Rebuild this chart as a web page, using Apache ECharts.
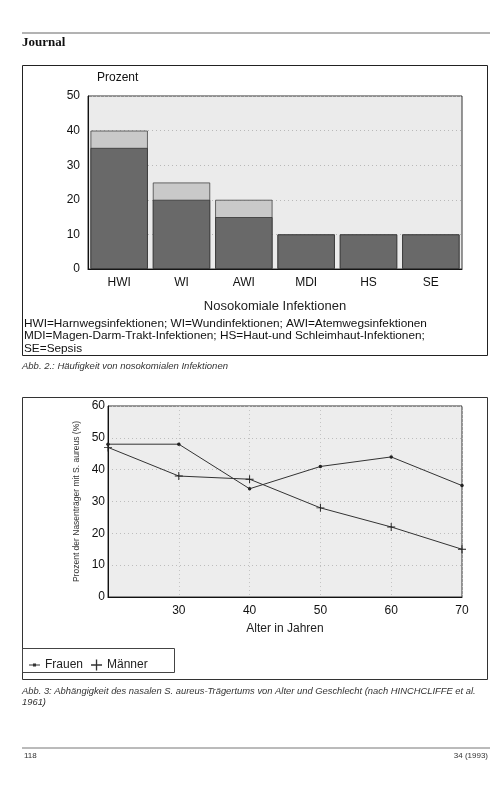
<!DOCTYPE html>
<html><head><meta charset="utf-8">
<script src="https://cdn.jsdelivr.net/npm/echarts@6/dist/echarts.min.js"></script>
<style>html,body{margin:0;padding:0;background:#fff}#c{width:493px;height:792px}</style>
</head><body><div id="c"></div>
<script>
// Chart 1: Häufigkeit von nosokomialen Infektionen
const categories = ['HWI', 'WI', 'AWI', 'MDI', 'HS', 'SE'];
const gesamtWerte = [40, 25, 20, 10, 10, 10];
const dunklerAnteil = [35, 20, 15, 10, 10, 10];
const barYTicks = [0, 10, 20, 30, 40, 50];

// Chart 2: S. aureus-Trägertum nach Alter und Geschlecht
const alter = [20, 30, 40, 50, 60, 70];
const frauen = [48, 48, 34, 41, 44, 35];
const maenner = [47, 38, 37, 28, 22, 15];
const lineXTicks = [30, 40, 50, 60, 70];
const lineYTicks = [0, 10, 20, 30, 40, 50, 60];

const FONT = '"Liberation Sans", Arial, sans-serif';
const PLUS = 'path://M4.4,0h1.2v4.4h4.4v1.2h-4.4v4.4h-1.2v-4.4h-4.4v-1.2h4.4z';
const DOTLINE = 'path://M0,4.6h10v0.8h-10zM3.6,3.6h2.8v2.8h-2.8z';

const chart = echarts.init(document.getElementById('c'), null, {renderer: 'canvas'});

const defs = [
  'HWI=Harnwegsinfektionen; WI=Wundinfektionen; AWI=Atemwegsinfektionen',
  'MDI=Magen-Darm-Trakt-Infektionen; HS=Haut-und Schleimhaut-Infektionen;',
  'SE=Sepsis'
];

const graphics = [
  {type: 'line', shape: {x1: 22, y1: 33, x2: 490, y2: 33}, style: {stroke: '#666', lineWidth: 1}},
  {type: 'text', left: 22, top: 36, style: {text: 'Journal', font: 'bold 13px "Liberation Serif", serif', fill: '#111'}},
  {type: 'rect', shape: {x: 22.5, y: 65.5, width: 465, height: 290}, style: {fill: 'none', stroke: '#222', lineWidth: 1}},
  {type: 'text', left: 97, top: 72, style: {text: 'Prozent', font: '12px ' + FONT, fill: '#111'}},
  {type: 'text', left: 24, top: 317, style: {text: defs.join('\n'), font: '11.8px ' + FONT, fill: '#111', lineHeight: 12.5}},
  {type: 'text', left: 22, top: 361, style: {text: 'Abb. 2.: Häufigkeit von nosokomialen Infektionen', font: 'italic 9.5px ' + FONT, fill: '#333'}},
  {type: 'rect', shape: {x: 22.5, y: 397.5, width: 465, height: 282}, style: {fill: 'none', stroke: '#333', lineWidth: 1}},
  {type: 'rect', shape: {x: 22.5, y: 648.5, width: 152, height: 24}, style: {fill: 'none', stroke: '#444', lineWidth: 1}},
  {type: 'text', left: 22, top: 686, style: {text: 'Abb. 3: Abhängigkeit des nasalen S. aureus-Trägertums von Alter und Geschlecht (nach HINCHCLIFFE et al.\n1961)', font: 'italic 9.4px ' + FONT, fill: '#333', lineHeight: 11}},
  {type: 'line', shape: {x1: 22, y1: 748, x2: 490, y2: 748}, style: {stroke: '#777', lineWidth: 1}},
  {type: 'text', left: 24, top: 752, style: {text: '118', font: '8px ' + FONT, fill: '#333'}},
  {type: 'text', right: 5, top: 752, style: {text: '34 (1993)', font: '8px ' + FONT, fill: '#333'}}
];

const option = {
  backgroundColor: '#fff',
  animation: false,
  textStyle: {fontFamily: FONT},
  graphic: graphics,
  grid: [
    {left: 88, top: 96, width: 374, height: 173, show: true, backgroundColor: '#ebebeb', borderColor: '#333', borderWidth: 1},
    {left: 108, top: 406, width: 354, height: 191, show: true, backgroundColor: '#ededed', borderColor: '#333', borderWidth: 1}
  ],
  xAxis: [
    {
      gridIndex: 0, type: 'category', data: categories,
      axisLine: {lineStyle: {color: '#111'}}, axisTick: {show: false},
      axisLabel: {color: '#111', fontSize: 12, margin: 8},
      name: 'Nosokomiale Infektionen', nameLocation: 'middle', nameGap: 31,
      nameTextStyle: {color: '#222', fontSize: 13}
    },
    {
      gridIndex: 1, type: 'value', min: 20, max: 70, interval: 10,
      axisLine: {lineStyle: {color: '#111'}}, axisTick: {show: false},
      axisLabel: {color: '#111', fontSize: 12, margin: 8,
        formatter: v => lineXTicks.includes(v) ? String(v) : ''},
      splitLine: {show: true, lineStyle: {color: '#c4c4c4', type: [1, 3], width: 1}},
      name: 'Alter in Jahren', nameLocation: 'middle', nameGap: 26,
      nameTextStyle: {color: '#222', fontSize: 12}
    }
  ],
  yAxis: [
    {
      gridIndex: 0, type: 'value', min: barYTicks[0], max: barYTicks[barYTicks.length - 1], interval: 10,
      axisLine: {show: true, lineStyle: {color: '#111'}}, axisTick: {show: false},
      axisLabel: {color: '#111', fontSize: 12, margin: 8},
      splitLine: {show: true, lineStyle: {color: '#b8b8b8', type: [1, 3], width: 1}}
    },
    {
      gridIndex: 1, type: 'value', min: lineYTicks[0], max: lineYTicks[lineYTicks.length - 1], interval: 10,
      axisLine: {show: true, lineStyle: {color: '#111'}}, axisTick: {show: false},
      axisLabel: {color: '#111', fontSize: 12, margin: 3},
      splitLine: {show: true, lineStyle: {color: '#bdbdbd', type: [1, 3], width: 1}},
      name: 'Prozent der Nasenträger mit S. aureus (%)', nameLocation: 'middle', nameGap: 20,
      nameTextStyle: {color: '#333', fontSize: 8.5}
    }
  ],
  legend: {
    left: 24, top: 654, itemGap: 8, itemWidth: 11, itemHeight: 11,
    textStyle: {color: '#222', fontSize: 12, fontFamily: FONT},
    data: [
      {name: 'Frauen', icon: DOTLINE, itemStyle: {color: '#333'}},
      {name: 'Männer', icon: PLUS, itemStyle: {color: '#333'}}
    ]
  },
  series: [
    {
      name: 'Gesamt', type: 'bar', xAxisIndex: 0, yAxisIndex: 0, data: gesamtWerte,
      barWidth: '92%', barGap: '-100%', z: 2,
      itemStyle: {color: '#c9c9c9', borderColor: '#444', borderWidth: 0.8}
    },
    {
      name: 'Anteil', type: 'bar', xAxisIndex: 0, yAxisIndex: 0, data: dunklerAnteil,
      barWidth: '92%', barGap: '-100%', z: 3,
      itemStyle: {color: '#696969', borderColor: '#333', borderWidth: 0.8}
    },
    {
      name: 'Frauen', type: 'line', xAxisIndex: 1, yAxisIndex: 1,
      data: alter.map((a, i) => [a, frauen[i]]),
      symbol: 'circle', symbolSize: 3.5,
      lineStyle: {color: '#333', width: 1}, itemStyle: {color: '#222'}
    },
    {
      name: 'Männer', type: 'line', xAxisIndex: 1, yAxisIndex: 1,
      data: alter.map((a, i) => [a, maenner[i]]),
      symbol: PLUS, symbolSize: 8,
      lineStyle: {color: '#333', width: 1}, itemStyle: {color: '#222'}
    }
  ]
};
chart.setOption(option);
</script>
</body></html>
